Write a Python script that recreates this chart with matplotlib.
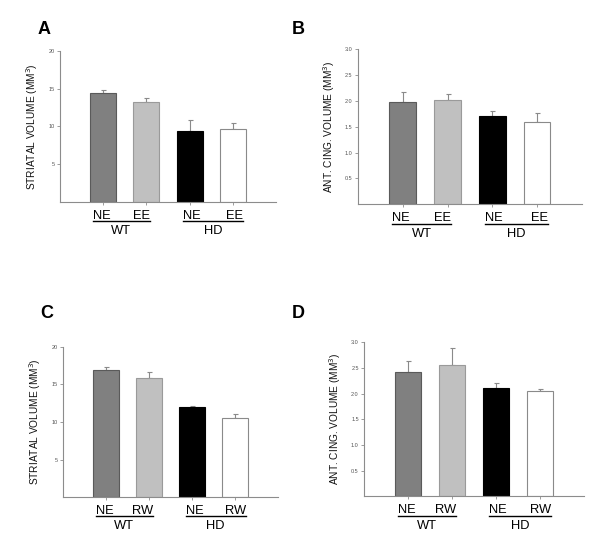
import matplotlib
matplotlib.use("Agg")
import matplotlib.pyplot as plt
from matplotlib.transforms import blended_transform_factory

plt.rcParams['font.family'] = ['Liberation Sans', 'DejaVu Sans']

# ---- data ----
groups = ["WT", "HD"]
cats_ee = ["NE", "EE", "NE", "EE"]
cats_rw = ["NE", "RW", "NE", "RW"]

A_vals = [14.45, 13.2, 9.4, 9.7]
A_err = [0.45, 0.55, 1.4, 0.7]
B_vals = [1.99, 2.01, 1.71, 1.59]
B_err = [0.19, 0.13, 0.10, 0.17]
C_vals = [16.85, 15.9, 11.95, 10.6]
C_err = [0.45, 0.8, 0.12, 0.5]
D_vals = [2.43, 2.56, 2.11, 2.05]
D_err = [0.21, 0.32, 0.10, 0.03]

A_ticks = [5, 10, 15, 20]
B_ticks = [0.5, 1.0, 1.5, 2.0, 2.5, 3.0]
A_label = "STRIATAL VOLUME (MM$^3$)"
B_label = "ANT. CING. VOLUME (MM$^3$)"

face = ["#808080", "#c0c0c0", "#000000", "#ffffff"]
edge = ["#5a5a5a", "#9a9a9a", "#000000", "#8a8a8a"]
axcol = "#8c8c8c"

# group label layout (data x centre, half width)
group_layout = [(1.42, 0.66), (3.545, 0.70)]

fig = plt.figure(figsize=(6.0, 5.45), dpi=100)

panels = [
    ("A", [0.100, 0.6294, 0.360, 0.277], A_vals, A_err, cats_ee, A_ticks, (0, 20), A_label, "%d", (0.063, 0.945)),
    ("B", [0.597, 0.6251, 0.3723, 0.2844], B_vals, B_err, cats_ee, B_ticks, (0, 3.0), B_label, "%.1f", (0.487, 0.945)),
    ("C", [0.1055, 0.0875, 0.3583, 0.2763], C_vals, C_err, cats_rw, A_ticks, (0, 20), A_label, "%d", (0.067, 0.425)),
    ("D", [0.6072, 0.0894, 0.3662, 0.2826], D_vals, D_err, cats_rw, B_ticks, (0, 3.0), B_label, "%.1f", (0.487, 0.425)),
]

x = [1, 2, 3, 4]
for letter, rect, vals, err, cats, ticks, ylim, ylabel, fmt, lpos in panels:
    ax = fig.add_axes(rect)
    ax.bar(x, vals, width=0.6, color=face, edgecolor=edge, linewidth=0.8, zorder=2)
    ax.errorbar(x, vals, yerr=[[0] * 4, err], fmt="none", ecolor="#8a8a8a",
                elinewidth=0.8, capsize=1.8, capthick=0.8, zorder=1)
    ax.set_xlim(0, 5)
    ax.set_ylim(*ylim)
    ax.set_yticks(ticks)
    ax.set_yticklabels([fmt % t for t in ticks])
    ax.set_xticks(x)
    ax.set_xticklabels([])
    for s in ["top", "right"]:
        ax.spines[s].set_visible(False)
    for s in ["left", "bottom"]:
        ax.spines[s].set_color(axcol)
        ax.spines[s].set_linewidth(0.8)
    ax.tick_params(axis="y", direction="out", length=2.5, width=0.6, colors=axcol,
                   labelsize=4, labelcolor="#555555", pad=1.5)
    ax.tick_params(axis="x", direction="out", length=2, width=0.6, colors=axcol)
    ax.set_ylabel(ylabel, fontsize=7.3, labelpad=6, color="#111111")

    tr = blended_transform_factory(ax.transData, ax.transAxes)
    for gi, g in enumerate(groups):
        c, hw = group_layout[gi]
        x0, x1 = c - hw, c + hw
        ax.text(x0, -0.09, cats[2 * gi], transform=tr, ha="left", va="center",
                fontsize=9.3, clip_on=False)
        ax.text(x1, -0.09, cats[2 * gi + 1], transform=tr, ha="right", va="center",
                fontsize=9.3, clip_on=False)
        ax.plot([x0, x1], [-0.125, -0.125], transform=tr, color="black", lw=1.0,
                clip_on=False)
        ax.text(c, -0.19, g, transform=tr, ha="center", va="center",
                fontsize=9.3, clip_on=False)

    fig.text(lpos[0], lpos[1], letter, fontsize=13, fontweight="bold",
             ha="left", va="center")

fig.savefig("out.png", dpi=100)
